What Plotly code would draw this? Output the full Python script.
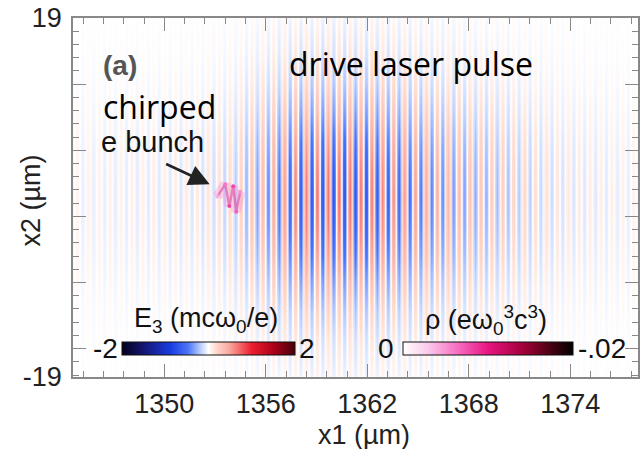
import numpy as np
import plotly.graph_objects as go

# ---------------- data ----------------
x1_range = [1344.6, 1378.0]          # µm
x2_range = [-19, 19]                 # µm
x1_ticks = [1350, 1356, 1362, 1368, 1374]
x2_tickvals = [19, 12, 5, -2, -9, -16, -19]
x2_ticktext = ["19", "", "", "", "", "", "-19"]

# laser envelope sampled along x1 (relative amplitude)
env_x1_pos = [1344.6, 1348, 1352, 1354, 1356, 1358, 1360, 1362, 1364, 1366, 1368, 1370, 1372, 1374, 1378]
env_x1_amp = [0.08, 0.10, 0.14, 0.24, 0.55, 0.92, 1.00, 0.95, 0.78, 0.60, 0.45, 0.33, 0.22, 0.14, 0.08]
# laser envelope sampled along x2 (relative amplitude)
env_x2_pos = [-19, -15, -12, -9, -6, -3, 0, 3, 6, 9, 12, 15, 19]
env_x2_amp = [0.08, 0.18, 0.32, 0.52, 0.76, 0.93, 1.00, 0.93, 0.76, 0.52, 0.32, 0.18, 0.08]
peak_E3 = 0.70            # mcω0/e
laser_wavelength = 0.645  # µm (stripe period)

# chirped electron bunch (zig-zag vertices) and its charge density
bunch_x1 = [1353.13, 1353.60, 1353.84, 1354.07, 1354.25, 1354.48]
bunch_x2 = [0.1, 1.4, -0.9, 1.2, -1.5, 0.6]
bunch_rho = [-0.004, -0.006, -0.008, -0.008, -0.007, -0.005]

# ---------------- layout helpers ----------------
W, H = 643, 449
L, R, T, B = 73, 3, 15, 72
PW, PH = W - L - R, H - T - B


def px(xpix):
    return (xpix - L) / PW


def py(ypix):
    return (H - B - ypix) / PH


e3_scale = [
    [0.0, "rgb(5,0,30)"], [0.12, "rgb(20,20,110)"], [0.28, "rgb(25,60,225)"],
    [0.38, "rgb(75,115,248)"], [0.46, "rgb(195,212,255)"], [0.5, "rgb(255,255,255)"],
    [0.54, "rgb(255,220,208)"], [0.62, "rgb(250,168,158)"], [0.75, "rgb(235,30,45)"],
    [0.88, "rgb(170,0,25)"], [1.0, "rgb(70,0,10)"],
]
rho_scale = [
    [0.0, "rgb(255,255,255)"], [0.15, "rgb(250,200,235)"], [0.35, "rgb(245,95,185)"],
    [0.5, "rgb(232,20,130)"], [0.7, "rgb(165,0,60)"], [0.85, "rgb(85,0,20)"], [1.0, "rgb(0,0,0)"],
]

# ---------------- field ----------------
x1g = np.linspace(x1_range[0], x1_range[1], 900)
x2g = np.linspace(x2_range[0], x2_range[1], 90)
ex1 = np.interp(x1g, env_x1_pos, env_x1_amp)
ex2 = np.interp(x2g, env_x2_pos, env_x2_amp)
carrier = np.cos(2 * np.pi * (x1g - x1_ticks[0]) / laser_wavelength)
Z = peak_E3 * np.outer(ex2, ex1 * carrier)

fig = go.Figure()
fig.add_trace(go.Heatmap(
    x=x1g, y=x2g, z=Z, zmin=-2, zmax=2, colorscale=e3_scale, zsmooth="best",
    hoverinfo="skip",
    colorbar=dict(orientation="h", x=px(208.5), xanchor="center", y=py(348.5), yanchor="middle",
                  len=173, lenmode="pixels", thickness=13, thicknessmode="pixels",
                  outlinewidth=1, outlinecolor="#111", showticklabels=False, ticks="",
                  xpad=0, ypad=0),
))

rho_abs = [abs(v) for v in bunch_rho]
fig.add_trace(go.Scatter(x=bunch_x1, y=bunch_x2, mode="lines",
                         line=dict(color="rgba(245,140,210,0.35)", width=10),
                         hoverinfo="skip", showlegend=False))
fig.add_trace(go.Scatter(x=bunch_x1, y=bunch_x2, mode="lines+markers",
                         line=dict(color="rgba(215,80,160,0.6)", width=2.5),
                         marker=dict(size=4, color=rho_abs, colorscale=rho_scale, cmin=0, cmax=0.02,
                                     showscale=True,
                                     colorbar=dict(orientation="h", x=px(489.5), xanchor="center",
                                                   y=py(348.5), yanchor="middle", len=170,
                                                   lenmode="pixels", thickness=13,
                                                   thicknessmode="pixels", outlinewidth=1,
                                                   outlinecolor="#111", showticklabels=False,
                                                   ticks="", xpad=0, ypad=0)),
                         hoverinfo="skip", showlegend=False))

axis_col = "#888"
fig.update_xaxes(range=x1_range, tickvals=x1_ticks, ticks="inside", ticklen=13, tickcolor=axis_col,
                 tickwidth=1.2, showline=True, linecolor=axis_col, linewidth=1.5, mirror="ticks",
                 showgrid=False, zeroline=False,
                 minor=dict(ticks="inside", dtick=1.2, tick0=1350, ticklen=6, tickcolor=axis_col,
                            tickwidth=1.2, showgrid=False),
                 tickfont=dict(family="Liberation Sans", size=27, color="#222"),
                 ticklabelstandoff=2)
fig.update_yaxes(range=x2_range, tickvals=x2_tickvals, ticktext=x2_ticktext, ticks="inside",
                 ticklen=13, tickcolor=axis_col, tickwidth=1.2, showline=True, linecolor=axis_col,
                 linewidth=1.5, mirror="ticks", showgrid=False, zeroline=False,
                 minor=dict(ticks="inside", dtick=1.4, tick0=-2, ticklen=6, tickcolor=axis_col,
                            tickwidth=1.2, showgrid=False),
                 tickfont=dict(family="Liberation Sans", size=27, color="#222"),
                 ticklabeloverflow="allow", ticklabelstandoff=4)

ann = []


def text(t, xp, yp, size, family="Liberation Sans", color="#111", xanchor="center", angle=0):
    ann.append(dict(text=t, x=px(xp), y=py(yp), xref="paper", yref="paper", showarrow=False,
                    xanchor=xanchor, yanchor="middle", textangle=angle,
                    font=dict(family=family, size=size, color=color)))


text("x2 (µm)", 31, 199, 27, color="#222", angle=-90)
text("x1 (µm)", 365, 435, 27, color="#222")
text("<b>(a)</b>", 120, 63, 28, color="#555")
text("drive laser pulse", 412, 61, 32, family="Open Sans", color="#000")
text("chirped", 160, 104, 32, family="Open Sans", color="#000")
text("e bunch", 153, 140, 29)
text("E<sub>3</sub> (mcω<sub>0</sub>/e)", 206, 320, 27)
text("ρ (eω<sub>0</sub><sup>3</sup>c<sup>3</sup>)", 487, 320, 27)
text("-2", 120, 348, 28, xanchor="right")
text("2", 298, 348, 28, xanchor="left")
text("0", 397, 348, 28, xanchor="right")
text("-.02", 578, 348, 28, xanchor="left")

ann.append(dict(x=bunch_x1[0] - 0.45, y=bunch_x2[1], xref="x", yref="y", ax=-45, ay=-21,
                axref="pixel", ayref="pixel", showarrow=True, arrowhead=2, arrowsize=1.6,
                arrowwidth=2.6, arrowcolor="#222", text=""))

fig.update_layout(width=W, height=H, margin=dict(l=L, r=R, t=T, b=B), plot_bgcolor="white",
                  paper_bgcolor="white", annotations=ann, showlegend=False)

fig.write_html("out.html")
